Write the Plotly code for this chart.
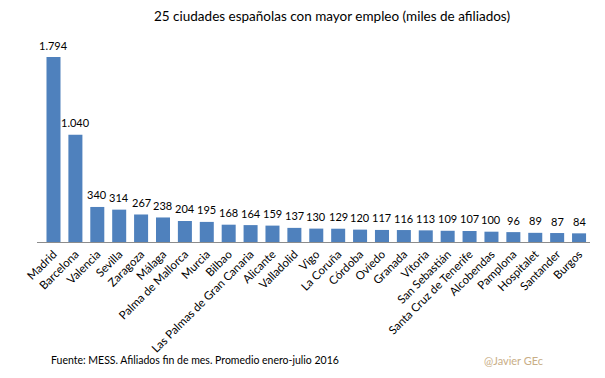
import plotly.graph_objects as go

cities = ["Madrid", "Barcelona", "Valencia", "Sevilla", "Zaragoza", "Málaga",
          "Palma de Mallorca", "Murcia", "Bilbao", "Las Palmas de Gran Canaria",
          "Alicante", "Valladolid", "Vigo", "La Coruña", "Córdoba", "Oviedo",
          "Granada", "Vitoria", "San Sebastián", "Santa Cruz de Tenerife",
          "Alcobendas", "Pamplona", "Hospitalet", "Santander", "Burgos"]
afiliados = [1794, 1040, 340, 314, 267, 238, 204, 195, 168, 164, 159, 137, 130,
             129, 120, 117, 116, 113, 109, 107, 100, 96, 89, 87, 84]

title = "25 ciudades españolas con mayor empleo (miles de afiliados)"
source = "Fuente: MESS. Afiliados fin de mes. Promedio enero-julio 2016"
credit = "@Javier GEc"

FONT = "Lato, 'Open Sans', sans-serif"

# page body has an 8px margin; figure sized to fill the remaining window
W, H = 597, 370
L, R, T, B = 29, 15, 32, 136
PW, PH = W - L - R, H - T - B


def fmt(v):
    return f"{v:,d}".replace(",", ".")


fig = go.Figure(go.Bar(
    x=cities, y=afiliados,
    marker=dict(color="#4F81BD", line=dict(width=0)),
    hoverinfo="x+y",
))

annotations = [
    dict(x=c, y=v, xref="x", yref="y", text=fmt(v), showarrow=False,
         yanchor="middle", yshift=12,
         font=dict(size=11, family=FONT, color="#000000"))
    for c, v in zip(cities, afiliados)
]
annotations += [
    dict(text=source, xref="paper", yref="paper", x=(49 - 37) / PW,
         xanchor="left", y=(242 - 360) / PH, yanchor="middle",
         showarrow=False,
         font=dict(size=10.5, family=FONT, color="#000000")),
    dict(text=credit, xref="paper", yref="paper", x=(545 - 37) / PW,
         xanchor="right", y=(242 - 360) / PH, yanchor="middle",
         showarrow=False,
         font=dict(size=11, family=FONT, color="#C9AE86")),
]

fig.update_layout(
    width=W, height=H,
    margin=dict(l=L, r=R, t=T, b=B, autoexpand=False),
    paper_bgcolor="white", plot_bgcolor="white",
    bargap=0.36,
    showlegend=False,
    font=dict(family=FONT, size=11, color="#000000"),
    title=dict(text=title, x=324 / W, xanchor="center", y=1 - 8 / H,
               yanchor="middle",
               font=dict(size=13.5, family=FONT, color="#000000")),
    xaxis=dict(tickangle=-45, showline=True, linecolor="#8c8c8c", linewidth=1,
               ticks="", showgrid=False, automargin=False,
               tickfont=dict(size=11.5, family=FONT)),
    yaxis=dict(range=[0, 1960], visible=False, showgrid=False, automargin=False),
    annotations=annotations,
)

fig.write_html("out.html")
